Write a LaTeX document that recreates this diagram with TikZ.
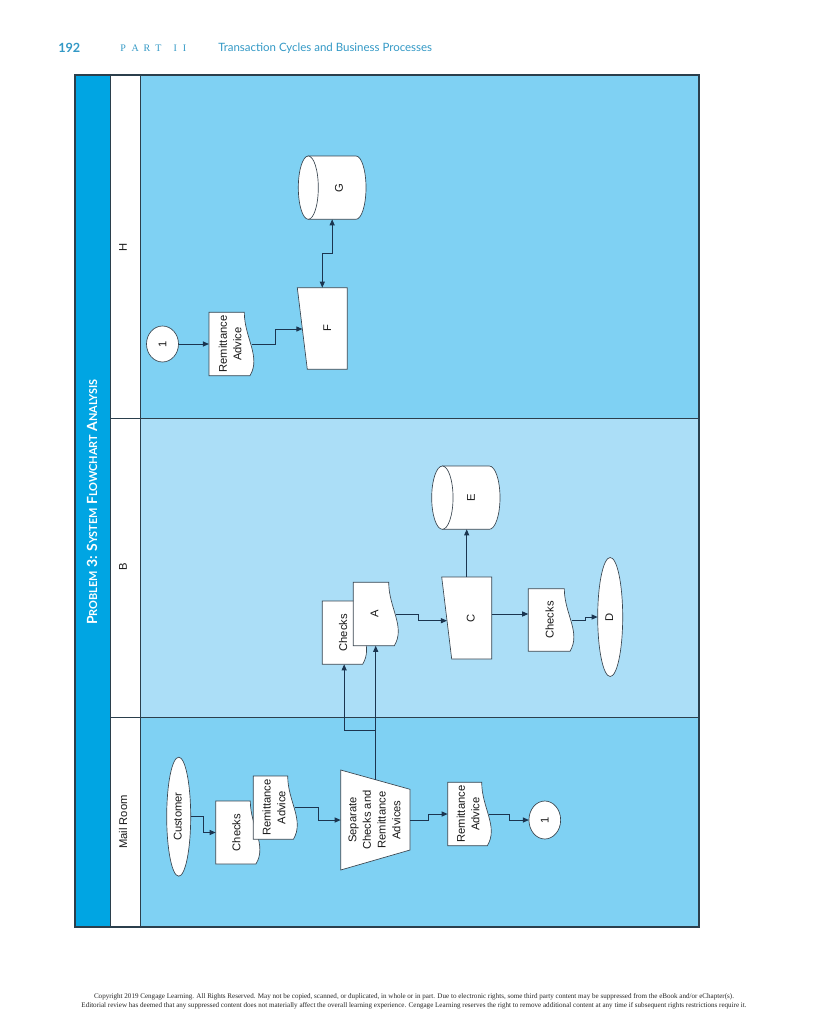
\documentclass[tikz,border=0pt]{standalone}
\usepackage{fontspec}
\setmainfont{Liberation Sans}
\newfontfamily\latof{Lato}
\newfontfamily\serf{Liberation Serif}
\usetikzlibrary{shapes.geometric,arrows.meta,calc}
\pgfdeclarelayer{bg}
\pgfdeclarelayer{shp}
\pgfsetlayers{bg,shp,main}
\definecolor{lanemid}{HTML}{7FD1F3}
\definecolor{lanelight}{HTML}{ABDEF7}
\definecolor{titlebar}{HTML}{00A5E3}
\definecolor{flowc}{HTML}{1B3550}
\definecolor{edgec}{HTML}{3A4650}
\definecolor{framec}{HTML}{2B3F4C}
\definecolor{headc}{HTML}{3399C6}
\newcommand\rt[1]{\rotatebox{90}{\begin{tabular}{@{}c@{}}#1\end{tabular}}}
\newcommand\bigc[1]{{\fontsize{10.5}{12}\selectfont #1}}
\newcommand\smc[1]{{\fontsize{8.2}{10}\selectfont #1}}
\newcommand\docout[1]{%
\begin{pgfonlayer}{shp}
\draw[shapeline] let \p1=(#1.north west), \p2=(#1.south east) in
 (\x1,\y1) -- (\x2-6.75pt,\y1)
 .. controls (\x2-6.75pt,{\y1+0.4*(\y2-\y1)}) and (\x2+6pt,{\y1+0.7*(\y2-\y1)}) ..
 (\x2-2.5pt,\y2) -- (\x1,\y2) -- cycle;
\end{pgfonlayer}}
\newcommand\cylout[2]{%
\begin{pgfonlayer}{shp}
\draw[shapeline] let \p1=(#1.north west), \p2=(#1.south east), \n1={0.5*(\y1-\y2)} in
 (\x1+#2,\y1) -- (\x2-#2,\y1) arc[start angle=90,end angle=-90,x radius=#2,y radius=\n1]
 -- (\x1+#2,\y2) -- cycle;
\draw[shapeline] let \p1=(#1.north west), \p2=(#1.south east), \n1={0.5*(\y1-\y2)} in
 (\x1+#2,{0.5*(\y1+\y2)}) ellipse[x radius=#2,y radius=\n1];
\end{pgfonlayer}}
\tikzset{
 shapeline/.style={draw=edgec, line width=0.5pt, fill=white},
 flow/.style={draw=flowc, line width=0.75pt, -{Triangle[length=4.6pt,width=3.8pt]}},
 flowboth/.style={draw=flowc, line width=0.75pt, {Triangle[length=4.6pt,width=3.8pt]}-{Triangle[length=4.6pt,width=3.8pt]}},
 sz/.style 2 args={minimum width={#1*0.75pt}, minimum height={#2*0.75pt}},
 box/.style={rectangle, inner sep=0pt, outer sep=0pt, text=black!90, font=\fontsize{8.4}{11}\selectfont},
 term/.style={ellipse, draw=edgec, line width=0.5pt, fill=white, inner sep=0pt, outer sep=0pt, text=black!90, font=\fontsize{8.4}{11}\selectfont},
 lanelabel/.style={rotate=90, inner sep=0pt, text=black!90, font=\fontsize{8.4}{11}\selectfont},
}
\begin{document}
\begin{tikzpicture}[x=0.75pt,y=-0.75pt]
\useasboundingbox (0,0) rectangle (820,1024);
\begin{pgfonlayer}{bg}
\fill[white] (0,0) rectangle (820,1024);
\fill[titlebar] (75,75) rectangle (110,927);
\fill[white] (110,75) rectangle (140,927);
\fill[lanemid] (140,75) rectangle (699,418);
\fill[lanelight] (140,418) rectangle (699,717);
\fill[lanemid] (140,717) rectangle (699,927);
\draw[framec, line width=0.6pt] (110,75) -- (110,927) (140,75) -- (140,927)
  (110,418) -- (699,418) (110,717) -- (699,717);
\draw[framec, line width=0.9pt] (75,75) rectangle (699,927);
\end{pgfonlayer}

% page header and footer
\node[anchor=west, inner sep=0pt, text=headc, font=\latof\bfseries\fontsize{9.5}{11}\selectfont] (pgnum) at (58,48) {192};
\node[anchor=west, inner sep=0pt, text=headc, font=\serf\fontsize{7.5}{9}\selectfont] (part) at (120,48) {P\hspace{4.4pt}A\hspace{3.6pt}R\hspace{3.8pt}T\hspace{9pt}I\hspace{4.5pt}I};
\node[anchor=west, inner sep=0pt, text=headc, font=\latof\fontsize{8.6}{10}\selectfont] (chap) at (218,48) {Transaction Cycles and Business Processes};
\node[inner sep=0pt, align=center, text=black!85, font=\serf\fontsize{5.3}{6.75}\selectfont] (copy) at (414,1001.5) {Copyright 2019 Cengage Learning. All Rights Reserved. May not be copied, scanned, or duplicated, in whole or in part. Due to electronic rights, some third party content may be suppressed from the eBook and/or eChapter(s).\\Editorial review has deemed that any suppressed content does not materially affect the overall learning experience. Cengage Learning reserves the right to remove additional content at any time if subsequent rights restrictions require it.};

% title and lane labels
\node[rotate=90, inner sep=0pt, text=white, font=\latof\bfseries] (title) at (92,502) {\bigc{P}\smc{ROBLEM} \bigc{3:} \bigc{S}\smc{YSTEM} \bigc{F}\smc{LOWCHART} \bigc{A}\smc{NALYSIS}};
\node[lanelabel] (labH) at (123,247) {H};
\node[lanelabel] (labB) at (123,567) {B};
\node[lanelabel] (labM) at (123,822) {Mail Room};

% Mail Room lane
\node[term, sz={24}{119}] (cust) at (178.7,816.7) {\rt{Customer}};
\node[box, sz={43.6}{63}] (chk1) at (237.5,832.5) {\rt{Checks}\hspace{6.3pt}};
\node[box, sz={43.4}{63.3}] (ra1) at (275,807.65) {\rt{Remittance\\Advice}\hspace{5pt}};
\node[box, sz={69.3}{100}] (sep) at (375.35,820) {\rt{Separate\\Checks and\\Remittance\\Advices}\hspace{4.5pt}};
\node[box, sz={43}{63.4}] (ra2) at (469.2,814) {\rt{Remittance\\Advice}\hspace{3.75pt}};
\node[term, sz={31.7}{38}] (con1) at (544.8,820) {\rotatebox{90}{1}};

% B lane
\node[box, sz={43.7}{63.3}] (chk2) at (344.15,632.65) {\rt{Checks}\hspace{9.75pt}};
\node[box, sz={44.4}{63.4}] (A) at (375.5,614) {\rt{A}\hspace{0.75pt}};
\node[box, sz={50}{82}] (C) at (466.7,618) {\hspace*{7.5pt}\rt{C}};
\node[box, sz={68.3}{63.3}] (E) at (465.85,497.65) {\hspace*{9pt}\rt{E}};
\node[box, sz={45}{62.6}] (chk3) at (550.8,620) {\rt{Checks}\hspace{3.75pt}};
\node[term, sz={25}{119}] (D) at (610.2,617) {\rt{D}};

% H lane
\node[term, sz={32}{36}] (con2) at (162.5,344) {\rotatebox{90}{1}};
\node[box, sz={44.3}{63.4}] (ra3) at (231.15,344) {\rt{Remittance\\Advice}\hspace{5.5pt}};
\node[box, sz={50}{81.6}] (F) at (322.3,328.5) {\hspace*{9pt}\rt{F}};
\node[box, sz={67.7}{63.3}] (G) at (332.15,187.65) {\hspace*{11.8pt}\rt{G}};

% shape outlines
\docout{chk1}
\docout{ra1}
\docout{ra2}
\docout{chk2}
\docout{A}
\docout{chk3}
\docout{ra3}
\cylout{E}{8pt}
\cylout{G}{7.5pt}
\begin{pgfonlayer}{shp}
\draw[shapeline] (340.7,770) -- (410,789.3) -- (410,850) -- (340.7,870) -- cycle;
\draw[shapeline] (441.7,577) -- (491.7,577) -- (491.7,659) -- (451.7,659) -- cycle;
\draw[shapeline] (297.3,287.7) -- (347.3,287.7) -- (347.3,369.3) -- (307.3,369.3) -- cycle;
\end{pgfonlayer}

% connector helper points
\coordinate (septop) at (375.7,779.7);
\coordinate (sepbr) at (375.7,730.7);
\coordinate (Cin) at (447,620.7);
\coordinate (Fin) at (302.4,329);

% connectors
\draw[flow] (cust.east) -- ++(12.6,0) |- (chk1.west);
\draw[flow] ([xshift=-1pt]ra1.east) -- ++(23,0) |- (sep.west);
\draw[flow] (septop) -- (septop |- A.south);
\draw[flow] (sepbr) -| (chk2.south);
\draw[flow] (sep.east) -- ++(18.3,0) |- (ra2.west);
\draw[flow] ([xshift=-1pt]ra2.east) -- ++(20,0) |- (con1.west);
\draw[flow] ([xshift=-1pt]A.east) -- ++(22,0) |- (Cin);
\draw[flow] (C.north) -- (C.north |- E.south);
\draw[flow] (C.east |- A.east) -- (chk3.west |- A.east);
\draw[flow] ([xshift=-1pt]chk3.east) -- ++(13.3,0) |- (D.west);
\draw[flow] (con2.east) -- (con2.east -| ra3.west);
\draw[flow] ([xshift=-1pt]ra3.east) -- ++(23.7,0) |- (Fin);
\draw[flowboth] (F.north) -- ++(0,-34.4) -| (G.south);
\end{tikzpicture}
\end{document}
